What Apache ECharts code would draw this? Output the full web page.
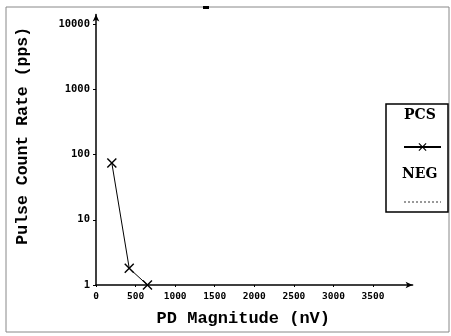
<!DOCTYPE html>
<html><head><meta charset="utf-8">
<script src="https://cdn.jsdelivr.net/npm/echarts@6/dist/echarts.min.js"></script>
<style>html,body{margin:0;padding:0;background:#fff}#c{width:451px;height:336px}</style>
</head><body><div id="c"></div>
<script>
const seriesNames = ['PCS', 'NEG'];
const pcsX = [200, 420, 650];
const pcsY = [74, 1.8, 1];
const negX = [];
const negY = [];
const xTicks = [0, 500, 1000, 1500, 2000, 2500, 3000, 3500];
const yTicks = [1, 10, 100, 1000, 10000];

const chart = echarts.init(document.getElementById('c'), null, {renderer: 'canvas'});
const xSym = 'path://M0,1L1,0L5,4L9,0L10,1L6,5L10,9L9,10L5,6L1,10L0,9L4,5Z';
const monoFont = "'DejaVu Sans Mono'";
const titleFont = "'Liberation Mono'";
chart.setOption({
  animation: false,
  backgroundColor: '#fff',
  grid: {left: 96, right: 38.4, top: 14.5, bottom: 51},
  xAxis: {
    type: 'value', min: 0, max: 4000, interval: 500,
    name: 'PD Magnitude (nV)', nameLocation: 'middle', nameGap: 25,
    nameTextStyle: {fontFamily: titleFont, fontWeight: 'bold', fontSize: 17, color: '#000', padding: [0, 22, 0, 0]},
    axisLine: {show: true, lineStyle: {color: '#000', width: 1.5}, symbol: ['none', 'arrow'], symbolSize: [5, 7]},
    axisTick: {show: true, length: 2, lineStyle: {color: '#000'}, customValues: xTicks},
    axisLabel: {margin: 7, color: '#000', fontFamily: monoFont, fontWeight: 'bold', fontSize: 9.5, customValues: xTicks,
      formatter: v => String(Math.round(v))},
    splitLine: {show: false}
  },
  yAxis: {
    type: 'log', logBase: 10, min: 1, max: 14000,
    name: 'Pulse Count Rate (pps)', nameLocation: 'middle', nameGap: 65,
    nameTextStyle: {fontFamily: titleFont, fontWeight: 'bold', fontSize: 16.5, color: '#000', padding: [0, 0, 0, 28]},
    axisLine: {show: true, lineStyle: {color: '#000', width: 1.5}, symbol: ['none', 'arrow'], symbolSize: [5, 7]},
    axisTick: {show: true, length: 3, lineStyle: {color: '#000'}, customValues: yTicks},
    axisLabel: {margin: 6, color: '#000', fontFamily: monoFont, fontWeight: 'bold', fontSize: 10.5, customValues: yTicks,
      formatter: v => String(Math.round(v))},
    splitLine: {show: false}
  },
  legend: {
    orient: 'vertical', left: 398, top: 137, itemGap: 46, itemWidth: 37, itemHeight: 10,
    formatter: () => '', textStyle: {fontSize: 1},
    data: seriesNames
  },
  series: [
    {name: seriesNames[0], type: 'line', data: pcsX.map((x, i) => [x, pcsY[i]]),
     symbol: xSym, symbolSize: 10, showSymbol: true,
     lineStyle: {color: '#000', width: 1}, itemStyle: {color: '#000'}},
    {name: seriesNames[1], type: 'line', data: negX.map((x, i) => [x, negY[i]]),
     symbol: 'none', symbolSize: 0, lineStyle: {color: '#999', width: 1, type: 'dotted'}, itemStyle: {color: 'rgba(0,0,0,0)'}}
  ],
  graphic: [
    {type: 'rect', shape: {x: 6, y: 7, width: 443, height: 325}, style: {fill: 'none', stroke: '#888', lineWidth: 1}, silent: true, z: -1},
    {type: 'rect', shape: {x: 203, y: 6, width: 6, height: 3}, style: {fill: '#000'}, silent: true},
    {type: 'rect', shape: {x: 386, y: 104, width: 62, height: 108}, style: {fill: 'none', stroke: '#000', lineWidth: 1.5}, silent: true},
    {type: 'text', left: 404, top: 108, style: {text: seriesNames[0], font: "bold 14px 'DejaVu Serif'", fill: '#000'}},
    {type: 'text', left: 402, top: 167, style: {text: seriesNames[1], font: "bold 14px 'DejaVu Serif'", fill: '#000'}}
  ]
});
</script></body></html>
